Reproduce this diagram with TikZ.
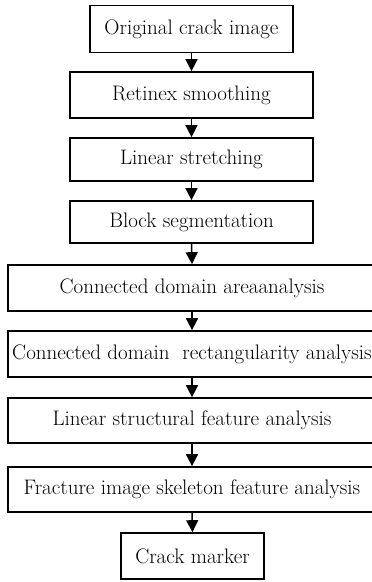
\documentclass[tikz,border=0pt]{standalone}
\usetikzlibrary{arrows.meta}
\begin{document}
\begin{tikzpicture}[x=1pt,y=-1pt,
  stepbox/.style={draw=black,line width=1.7pt,rectangle,inner sep=0pt,font=\fontsize{21}{24}\selectfont},
  flow/.style={draw=black,line width=1.5pt,-{Triangle[length=12pt,width=12pt]}}]
\useasboundingbox (0,0) rectangle (372,582);
\clip (0,0) rectangle (372,582);
\node[stepbox,minimum width=203pt,minimum height=47pt] (n1) at (191.5,29) {Original crack image};
\node[stepbox,minimum width=243pt,minimum height=46pt] (n2) at (191.5,95) {Retinex smoothing};
\node[stepbox,minimum width=243pt,minimum height=43pt] (n3) at (191.5,159.5) {Linear stretching};
\node[stepbox,minimum width=243pt,minimum height=42pt] (n4) at (191.5,222) {Block segmentation};
\node[stepbox,minimum width=368pt,minimum height=46pt] (n5) at (192,288) {Connected domain areaanalysis};
\node[stepbox,minimum width=368pt,minimum height=46pt] (n6) at (192,354) {Connected domain\ \ rectangularity analysis};
\node[stepbox,minimum width=368pt,minimum height=45pt] (n7) at (192,420.5) {Linear structural feature analysis};
\node[stepbox,minimum width=368pt,minimum height=45pt] (n8) at (192,489.5) {Fracture image skeleton feature analysis};
\node[stepbox,minimum width=143pt,minimum height=46pt] (n9) at (192.5,556) {Crack marker};
\foreach \a/\b in {n1/n2,n2/n3,n3/n4,n4/n5,n5/n6,n6/n7,n7/n8,n8/n9}
  \draw[flow] (\a.south) -- (\b.north);
\end{tikzpicture}
\end{document}
